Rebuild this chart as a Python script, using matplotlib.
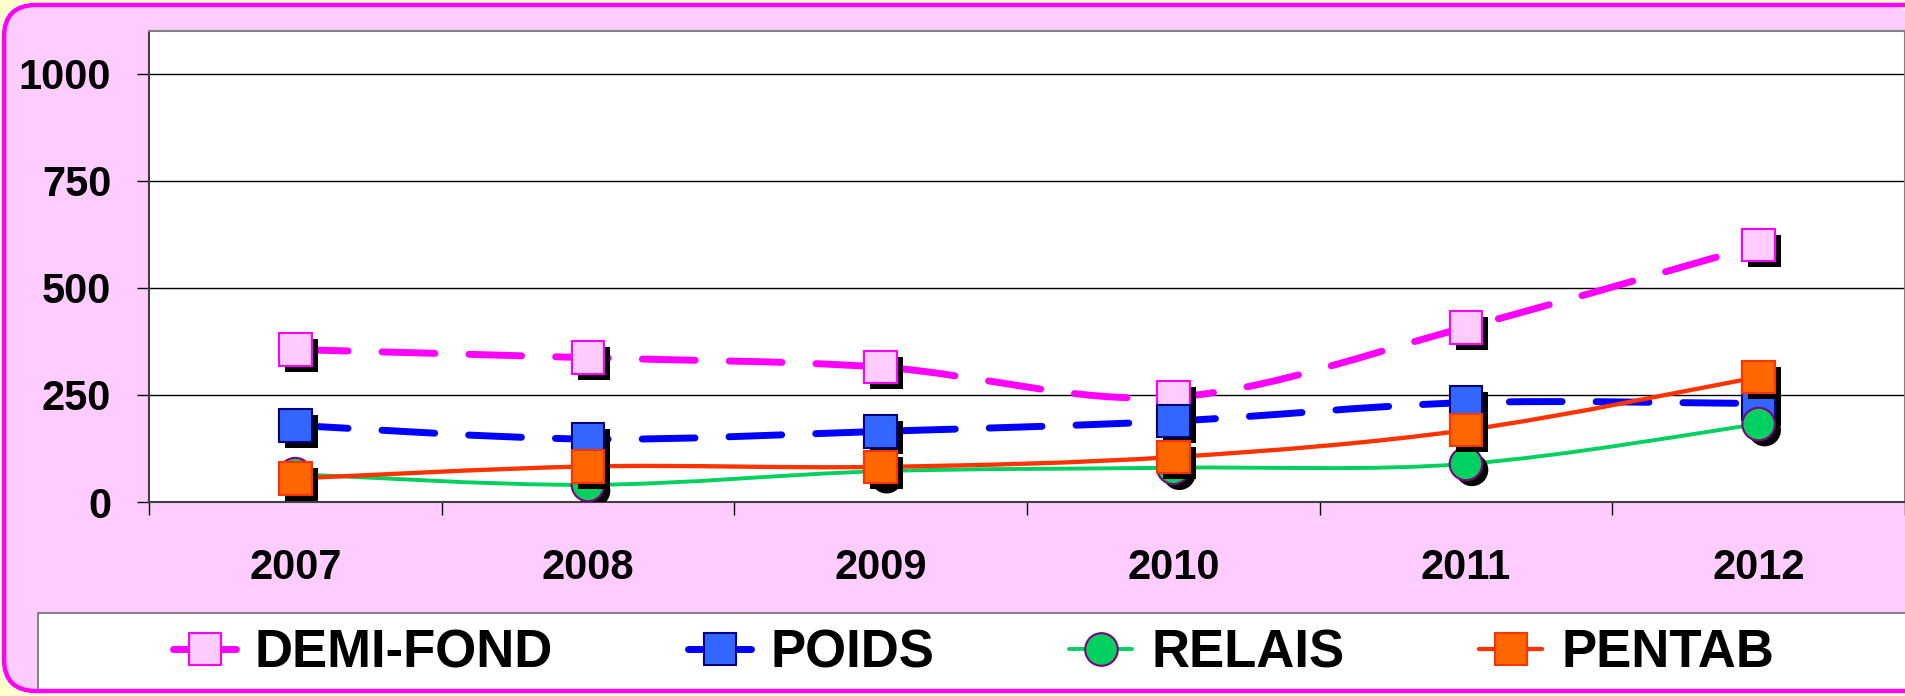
#!/usr/bin/env python3
import matplotlib
matplotlib.use("Agg")
import matplotlib.pyplot as plt
import matplotlib.patheffects as pe
from matplotlib.path import Path
from matplotlib.patches import PathPatch, FancyBboxPatch, Rectangle
from matplotlib.lines import Line2D
import numpy as np

# Data
years = ["2007", "2008", "2009", "2010", "2011", "2012"]
demi_fond = [356, 337, 315, 245, 408, 600]
poids = [179, 147, 165, 189, 232, 230]
relais = [65, 40, 72, 80, 89, 182]
pentab = [55, 83, 82, 105, 168, 292]
y_ticks = [0, 250, 500, 750, 1000]

W, H, DPI = 1905, 696, 100
FONT = "Liberation Sans"
PINK = "#FFCCFF"
MAGENTA = "#FF00FF"


def smooth_path(xs, ys):
    # Excel-style smoothed line: cubic Bezier segments through the data points
    pts = np.column_stack([xs, ys]).astype(float)
    n = len(pts)
    verts = [pts[0]]
    codes = [Path.MOVETO]
    for i in range(n - 1):
        p0 = pts[max(i - 1, 0)]
        p1 = pts[i]
        p2 = pts[i + 1]
        p3 = pts[min(i + 2, n - 1)]
        verts += [p1 + (p2 - p0) / 6, p2 - (p3 - p1) / 6, p2]
        codes += [Path.CURVE4] * 3
    return Path(verts, codes)


fig = plt.figure(figsize=(W / DPI, H / DPI), dpi=DPI, facecolor="#FFFFCC")


def frame_box(width, **kw):
    # rounded box in figure fractions; right side runs off the image
    return FancyBboxPatch((4 / W, 5 / H), width / W, 686 / H,
                          boxstyle="round,pad=0,rounding_size=%f" % (32 / W),
                          mutation_aspect=W / H, transform=fig.transFigure, **kw)


fig.patches.append(frame_box(1912, facecolor=PINK, edgecolor="none", zorder=-2))
fig.patches.append(Rectangle((38 / W, 5 / H), 1900 / W, 78 / H, transform=fig.transFigure,
                             facecolor="white", edgecolor="#707070", lw=1.2, zorder=-1))
fig.patches.append(frame_box(2100, facecolor="none", edgecolor=MAGENTA, lw=3.2, zorder=10))

ax = fig.add_axes([149 / W, (H - 502) / H, (W - 149) / W, (502 - 31) / H])
ax.set_facecolor("white")
ax.set_xlim(0, 6)
ax.set_ylim(0, 1100)

x = np.arange(len(years)) + 0.5

series = [
    dict(name="DEMI-FOND", y=demi_fond, color=MAGENTA, lw=5, dashed=True,
         marker="s", mfc=PINK, mec=MAGENTA),
    dict(name="POIDS", y=poids, color="#0000FF", lw=5, dashed=True,
         marker="s", mfc="#3366FF", mec="#000080"),
    dict(name="RELAIS", y=relais, color="#00D060", lw=2.8, dashed=False,
         marker="o", mfc="#00D060", mec="#800080"),
    dict(name="PENTAB", y=pentab, color="#FF3300", lw=3.1, dashed=False,
         marker="s", mfc="#FF6600", mec="#FF3300"),
]

shadow = [pe.SimplePatchShadow(offset=(4.3, -4.3), shadow_rgbFace="black", alpha=1.0), pe.Normal()]
handles = []
for i, s in enumerate(series):
    z = 3 + i
    ls = (0, (7.6, 4.9)) if s["dashed"] else "-"
    patch = PathPatch(smooth_path(x, s["y"]), facecolor="none", edgecolor=s["color"],
                      lw=s["lw"], linestyle=ls, capstyle="round", joinstyle="round", zorder=z)
    ax.add_patch(patch)
    ax.plot(x, s["y"], linestyle="none", marker=s["marker"], markersize=23.5,
            markerfacecolor=s["mfc"], markeredgecolor=s["mec"], markeredgewidth=1.5,
            zorder=z + 0.5, path_effects=shadow)
    handles.append(Line2D([], [], color=s["color"], lw=s["lw"], solid_capstyle="round",
                          marker=s["marker"], markersize=23.5, markerfacecolor=s["mfc"],
                          markeredgecolor=s["mec"], markeredgewidth=1.5))

# axes styling
ax.set_yticks(y_ticks)
ax.set_yticklabels([str(v) for v in y_ticks], fontsize=30, fontweight="bold", family=FONT)
ax.tick_params(axis="y", length=8.6, width=1, color="black", pad=18.5)
ax.yaxis.grid(True, color="black", lw=1)
ax.set_axisbelow(True)

ax.set_xticks(np.arange(0, 7))
ax.set_xticklabels([])
ax.set_xticks(x, minor=True)
ax.set_xticklabels(years, minor=True, fontsize=30, fontweight="bold", family=FONT)
ax.tick_params(axis="x", which="major", length=9.4, width=1, color="black")
ax.tick_params(axis="x", which="minor", length=0, pad=33)

for side in ["left", "bottom"]:
    ax.spines[side].set_color("#404040")
    ax.spines[side].set_linewidth(1.5)
for side in ["top", "right"]:
    ax.spines[side].set_color("#808080")
    ax.spines[side].set_linewidth(1.5)

fs_px = 38 * DPI / 72
fig.legend(handles, [s["name"] for s in series], loc="center left",
           bbox_to_anchor=(173 / W, (H - 653) / H), ncol=4, frameon=False,
           borderpad=0, borderaxespad=0, handlelength=63 / fs_px,
           handletextpad=19 / fs_px, columnspacing=135 / fs_px,
           prop=dict(family=FONT, weight="bold", size=38))

fig.savefig("out.png", dpi=DPI, facecolor=fig.get_facecolor())
